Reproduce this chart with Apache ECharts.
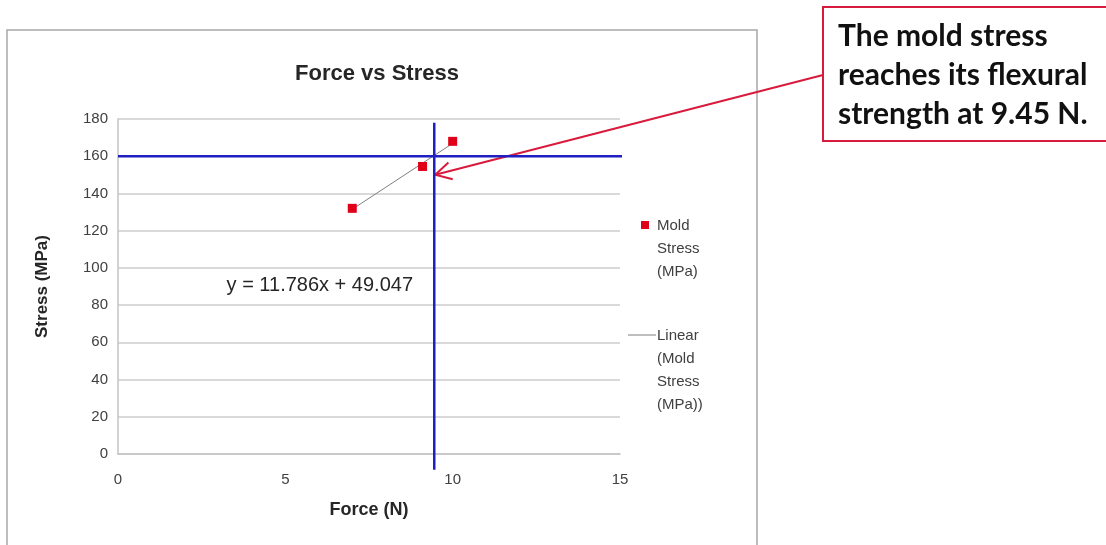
<!DOCTYPE html>
<html>
<head>
<meta charset="utf-8">
<script src="https://cdn.jsdelivr.net/npm/echarts@6/dist/echarts.min.js"></script>
<style>
  html, body { margin: 0; padding: 0; background: #fff; }
  #chart { width: 1106px; height: 545px; }
</style>
</head>
<body>
<div id="chart"></div>
<script>
// measured points
const forceN = [7, 9.1, 10]
const stressMPa = [132, 154.5, 168]

// excel trendline y = 11.786x + 49.047, endpoints
const trendForce = [7, 10]
const trendStress = [131.5, 166.9]

// blue guide lines at the flexural strength
const strengthStress = 160
const strengthForce = 9.45
const guideForceRange = [0, 15.35]
const guideStressRange = [178, -8.5]

const arrowTip = [9.48, 150]
const equationAt = [6.03, 90.8]
const equationText = 'y = 11.786x + 49.047'
const calloutLines = ['The mold stress', 'reaches its flexural', 'strength at 9.45 N.']

const FONT = '"Liberation Sans", Arial, sans-serif'
const blue = '#1f1fc2'
const red = '#d81b3c'

const chart = echarts.init(document.getElementById('chart'))

chart.setOption({
  animation: false,
  backgroundColor: '#fff',
  title: {
    text: 'Force vs Stress',
    left: 372,
    top: 58,
    textAlign: 'center',
    textStyle: { fontFamily: FONT, fontSize: 22, fontWeight: 'bold', color: '#262626' },
  },
  grid: { left: 118, right: 486, top: 119, bottom: 91, containLabel: false },
  xAxis: {
    type: 'value',
    min: 0,
    max: 15,
    interval: 5,
    name: 'Force (N)',
    nameLocation: 'middle',
    nameGap: 47,
    nameTextStyle: { fontFamily: FONT, fontSize: 18, fontWeight: 'bold', color: '#262626' },
    axisLine: { show: true, onZero: false, lineStyle: { color: '#c4c4c4', width: 1.5 } },
    axisTick: { show: false },
    splitLine: { show: false },
    axisLabel: { margin: 18, fontFamily: FONT, fontSize: 15, color: '#404040' },
  },
  yAxis: {
    type: 'value',
    min: 0,
    max: 180,
    interval: 20,
    name: 'Stress (MPa)',
    nameLocation: 'middle',
    nameGap: 67,
    nameTextStyle: { fontFamily: FONT, fontSize: 17, fontWeight: 'bold', color: '#262626' },
    axisLine: { show: true, lineStyle: { color: '#c4c4c4', width: 1.5 } },
    axisTick: { show: false },
    splitLine: { lineStyle: { color: '#cccccc', width: 1.5 } },
    axisLabel: { margin: 10, fontFamily: FONT, fontSize: 15, color: '#404040' },
  },
  series: [
    {
      name: 'Linear (Mold Stress (MPa))',
      type: 'line',
      data: trendForce.map((f, i) => [f, trendStress[i]]),
      showSymbol: false,
      lineStyle: { color: '#7f7f7f', width: 1 },
      z: 2,
    },
    {
      name: 'Mold Stress (MPa)',
      type: 'scatter',
      data: forceN.map((f, i) => [f, stressMPa[i]]),
      symbol: 'rect',
      symbolSize: 9,
      itemStyle: { color: '#e00018', opacity: 1 },
      z: 3,
    },
    {
      type: 'line',
      data: guideForceRange.map((f) => [f, strengthStress]),
      showSymbol: false,
      clip: false,
      lineStyle: { color: blue, width: 2.5 },
      z: 4,
    },
    {
      type: 'line',
      data: guideStressRange.map((s) => [strengthForce, s]),
      showSymbol: false,
      clip: false,
      lineStyle: { color: blue, width: 2.5 },
      z: 4,
    },
  ],
})

// overlay: frame, legend, equation, callout and arrow
const tip = chart.convertToPixel({ gridIndex: 0 }, arrowTip)
const eq = chart.convertToPixel({ gridIndex: 0 }, equationAt)
const start = [823, 75]
const ang = Math.atan2(start[1] - tip[1], start[0] - tip[0])
const headLen = 18
const spread = 0.5
const headA = [tip[0] + headLen * Math.cos(ang + spread), tip[1] + headLen * Math.sin(ang + spread)]
const headB = [tip[0] + headLen * Math.cos(ang - spread), tip[1] + headLen * Math.sin(ang - spread)]

const legendText = { fontFamily: FONT, fontSize: 15, fill: '#404040', lineHeight: 23 }

chart.setOption({
  graphic: [
    {
      type: 'rect',
      shape: { x: 7, y: 30, width: 750, height: 540 },
      style: { fill: 'none', stroke: '#a8a8a8', lineWidth: 1.5 },
      z: -1,
      silent: true,
    },
    {
      type: 'text',
      x: eq[0],
      y: eq[1],
      style: { text: equationText, fontFamily: FONT, fontSize: 20, fill: '#262626', align: 'center', verticalAlign: 'middle' },
    },
    {
      type: 'rect',
      shape: { x: 641, y: 221, width: 8, height: 8 },
      style: { fill: '#e00018' },
    },
    {
      type: 'text',
      x: 657,
      y: 214,
      style: Object.assign({ text: 'Mold\nStress\n(MPa)' }, legendText),
    },
    {
      type: 'line',
      shape: { x1: 628, y1: 335, x2: 656, y2: 335 },
      style: { stroke: '#7f7f7f', lineWidth: 1 },
    },
    {
      type: 'text',
      x: 657,
      y: 324,
      style: Object.assign({ text: 'Linear\n(Mold\nStress\n(MPa))' }, legendText),
    },
    {
      type: 'rect',
      shape: { x: 823, y: 7, width: 300, height: 134 },
      style: { fill: '#fff', stroke: red, lineWidth: 2 },
    },
    ...calloutLines.map((line, i) => ({
      type: 'text',
      x: 838,
      y: 36 + i * 39,
      style: { text: line, fontFamily: 'Lato, sans-serif', fontWeight: 'bold', fontSize: 30, fill: '#111', verticalAlign: 'middle' },
    })),
    {
      type: 'line',
      shape: { x1: start[0], y1: start[1], x2: tip[0], y2: tip[1] },
      style: { stroke: red, lineWidth: 2 },
    },
    {
      type: 'polyline',
      shape: { points: [headA, tip, headB] },
      style: { stroke: red, lineWidth: 2, fill: 'none' },
    },
  ],
})
</script>
</body>
</html>
